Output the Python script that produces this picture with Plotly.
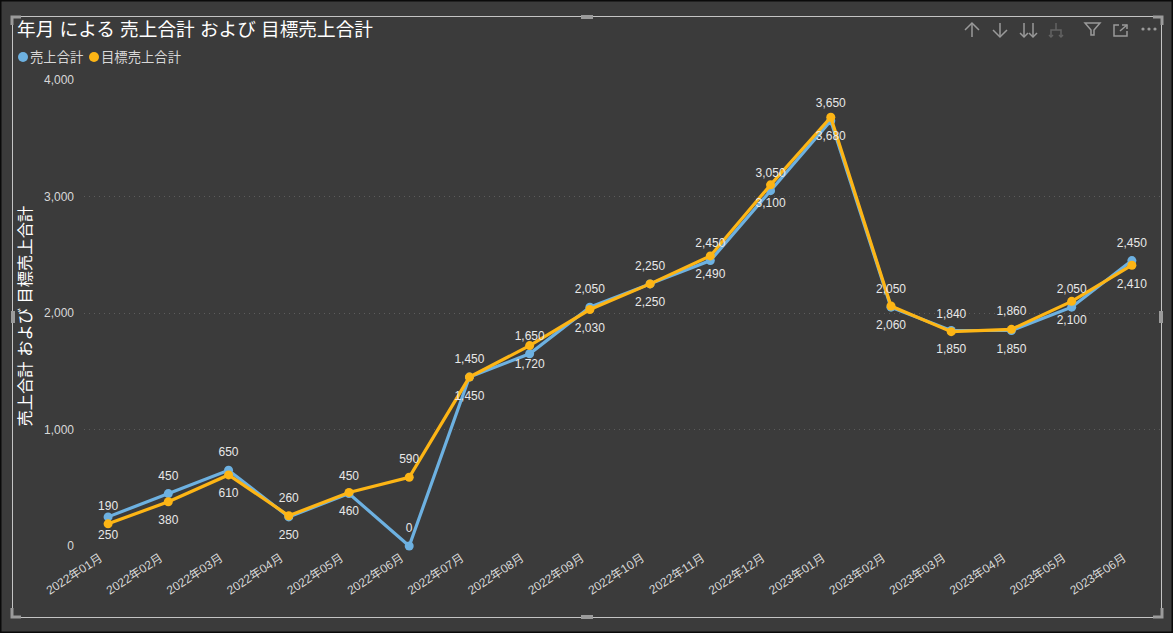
import plotly.graph_objects as go

W, H = 1173, 633
TITLE = "年月 による 売上合計 および 目標売上合計"
Y_TITLE = "売上合計 および 目標売上合計"
SERIES_A = "売上合計"
SERIES_B = "目標売上合計"
months = ["2022年01月", "2022年02月", "2022年03月", "2022年04月", "2022年05月", "2022年06月",
          "2022年07月", "2022年08月", "2022年09月", "2022年10月", "2022年11月", "2022年12月",
          "2023年01月", "2023年02月", "2023年03月", "2023年04月", "2023年05月", "2023年06月"]
sales = [250, 450, 650, 250, 450, 0, 1450, 1650, 2050, 2250, 2450, 3050, 3650, 2050, 1850, 1850, 2050, 2450]
target = [190, 380, 610, 260, 460, 590, 1450, 1720, 2030, 2250, 2490, 3100, 3680, 2060, 1840, 1860, 2100, 2410]
y_ticks = [0, 1000, 2000, 3000, 4000]

BG = "#3b3b3b"
BLUE = "#6db1e1"
ORANGE = "#fdb515"
FONT = "Liberation Sans, Noto Sans CJK JP, sans-serif"
TICK = "#d8d8d8"
LABEL = "#e8e8e8"


def px(x):
    return x / W


def py(y):
    return 1 - y / H


# Label placement, month by month, as in the reference
T, B = "top center", "bottom center"
sales_pos = [B, T, T, B, T, T, T, T, T, T, T, T, T, T, B, B, T, T]
target_pos = [T, B, B, T, B, T, B, B, B, B, B, B, B, B, T, T, B, B]

fig = go.Figure()
for name, vals, color in ((SERIES_A, sales, BLUE), (SERIES_B, target, ORANGE)):
    fig.add_trace(go.Scatter(x=months, y=vals, name=name, mode="lines+markers",
                             line=dict(color=color, width=3.2),
                             marker=dict(color=color, size=9, line=dict(width=0)),
                             cliponaxis=False, showlegend=False))
# Labels sit on transparent, larger markers, which sets the gap between each point and its label
for name, vals, pos in ((SERIES_A, sales, sales_pos), (SERIES_B, target, target_pos)):
    fig.add_trace(go.Scatter(x=months, y=vals, name=name + " labels", mode="markers+text",
                             marker=dict(color="rgba(0,0,0,0)", size=[16 if p == T else 20 for p in pos],
                                         line=dict(width=0)),
                             text=[f"{v:,}" for v in vals], textposition=pos,
                             textfont=dict(color=LABEL, size=12, family=FONT), cliponaxis=False,
                             showlegend=False, hoverinfo="skip"))

shapes = []


def paper_path(points, color, width=1.5, close=False, fill=None):
    d = "M" + " L".join(f"{px(x):.5f},{py(y):.5f}" for x, y in points)
    if close:
        d += " Z"
    shapes.append(dict(type="path", xref="paper", yref="paper", path=d,
                       line=dict(color=color, width=width),
                       fillcolor=fill or "rgba(0,0,0,0)", layer="above"))


def paper_rect(x0, y0, x1, y1, line=None, fill=None, width=1):
    shapes.append(dict(type="rect", xref="paper", yref="paper", x0=px(x0), x1=px(x1), y0=py(y0), y1=py(y1),
                       line=dict(color=line or "rgba(0,0,0,0)", width=width if line else 0),
                       fillcolor=fill or "rgba(0,0,0,0)", layer="above"))


def paper_dot(cx, cy, r, color):
    shapes.append(dict(type="circle", xref="paper", yref="paper", x0=px(cx - r), x1=px(cx + r),
                       y0=py(cy - r), y1=py(cy + r), line=dict(width=0), fillcolor=color, layer="above"))


# window edge and focus frame
paper_rect(0.5, 0.5, 1172.5, 632.5, line="#0a0a0a", width=2)
paper_rect(12.5, 16.5, 1161.5, 617.5, line="#c4c4c4")
HANDLE = "#9b9b9b"
for pts in ([(12, 25), (12, 17), (21, 17)], [(1153, 17), (1162, 17), (1162, 25)],
            [(12, 608), (12, 617), (21, 617)], [(1153, 617), (1162, 617), (1162, 608)]):
    paper_path(pts, HANDLE, width=3)
paper_rect(581, 15, 593, 19, fill=HANDLE)
paper_rect(581, 615, 593, 619, fill=HANDLE)
paper_rect(11, 311, 15, 323, fill=HANDLE)
paper_rect(1159, 311, 1163, 323, fill=HANDLE)

# header icons
ICON = "#9a9a9a"
DIM = "#636363"
paper_path([(972, 37), (972, 23)], ICON)
paper_path([(965, 30), (972, 23), (979, 30)], ICON)
paper_path([(1000, 23), (1000, 37)], ICON)
paper_path([(993, 30), (1000, 37), (1007, 30)], ICON)
for cx in (1024, 1033):
    paper_path([(cx, 23), (cx, 37)], ICON)
    paper_path([(cx - 4, 33), (cx, 37), (cx + 4, 33)], ICON)
paper_path([(1056, 23), (1056, 30)], DIM)
paper_path([(1051, 37), (1051, 30), (1061, 30), (1061, 37)], DIM)
paper_path([(1049, 35), (1051, 37), (1053, 35)], DIM)
paper_path([(1059, 35), (1061, 37), (1063, 35)], DIM)
paper_path([(1085, 23), (1100, 23), (1094, 30), (1094, 35), (1091, 35), (1091, 30)], ICON, close=True)
paper_path([(1119, 25), (1114, 25), (1114, 36), (1127, 36), (1127, 31)], ICON)
paper_path([(1120, 31), (1127, 25)], ICON)
paper_path([(1122, 25), (1127, 25), (1127, 29)], ICON)
for cx in (1143, 1149, 1155):
    paper_dot(cx, 29, 1.6, ICON)

# legend markers
paper_dot(23, 57, 5, BLUE)
paper_dot(94, 57, 5, ORANGE)

annotations = [
    dict(text=TITLE, x=px(17), y=py(29.5), xanchor="left", yanchor="middle", showarrow=False,
         font=dict(size=18.67, color="#ffffff", family=FONT)),
    dict(text=SERIES_A, x=px(30), y=py(57), xanchor="left", yanchor="middle", showarrow=False,
         font=dict(size=13.33, color=TICK, family=FONT)),
    dict(text=SERIES_B, x=px(101), y=py(57), xanchor="left", yanchor="middle", showarrow=False,
         font=dict(size=13.33, color=TICK, family=FONT)),
    dict(text=Y_TITLE, x=px(24), y=py(316.5), xanchor="center", yanchor="middle", showarrow=False, textangle=-90,
         font=dict(size=16.3, color="#ffffff", family=FONT)),
]
for a in annotations:
    a.update(xref="paper", yref="paper", borderpad=0, borderwidth=0)

fig.update_layout(
    width=W, height=H, template="none", autosize=False,
    margin=dict(l=0, r=0, t=0, b=0, pad=0),
    paper_bgcolor=BG, plot_bgcolor=BG,
    font=dict(family=FONT, color=TICK, size=12),
    showlegend=False, shapes=shapes, annotations=annotations,
    xaxis=dict(domain=[px(84), px(1162)], range=[-0.4, 17.5], type="category",
               tickangle=-33, showgrid=False, zeroline=False, showline=False, ticks="",
               tickfont=dict(size=12, color=TICK, family=FONT), automargin=False,
               ticklabelstandoff=2, ticklabelshift=-8),
    yaxis=dict(domain=[py(546), py(80)], range=[0, 4000], tickvals=y_ticks, tickformat=",d",
               gridcolor="#5c5c5c", griddash="1px,4px", gridwidth=1, zeroline=False, showline=False, ticks="",
               tickfont=dict(size=12, color=TICK, family=FONT), automargin=False, ticklabelstandoff=9),
)

fig.write_html("out.html", post_script="document.body.style.margin='0';document.body.style.overflow='hidden';",
               config={"displayModeBar": False})
